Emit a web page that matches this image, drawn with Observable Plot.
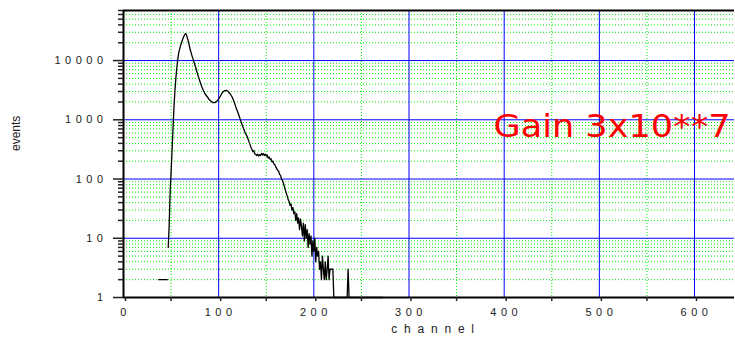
<!DOCTYPE html>
<html><head><meta charset="utf-8">
<script src="https://cdn.jsdelivr.net/npm/d3@7"></script>
<script src="https://cdn.jsdelivr.net/npm/@observablehq/plot@0.6"></script>
<style>
body{margin:0;background:#fff;}
</style>
</head><body><div id="chart"></div>
<script>
// ---- data ----
const lowChannels = [37, 46];
const lowCounts = [2, 2];

const channels = [47,48,49,50,51,52,53,54,55,56,57,58,60,62,64,65,66,68,70,72,74,76,78,80,82,84,86,88,90,92,94,96,98,100,102,104,106,108,110,112,114,116,118,120,122,124,126,128,130,132,134,136,137,138,139,140,141,142,143,144,145,146,147,148,149,150,151,152,153,154,155,156,157,158,159,160,161,162,163,164,165,166,167,168,169,170,171,172,173,174,175,176,177,178,179,180,181,182,183,184,185,186,187,188,189,190,191,192,193,194,195,196,197,198,199,200,201,202,203,204,205,206,207,208,209,210,211,212,213,214,215,216,217,218,219,220,221,235,236,237,272];
const counts = [7,17,60,130,300,700,1600,3000,5000,7500,10500,13500,18000,22500,27000,28500,27500,21500,15500,12000,9500,7500,5800,4600,3700,3100,2700,2450,2200,2050,1950,1950,2050,2250,2550,2900,3100,3150,3000,2750,2450,2050,1650,1350,1100,880,720,600,520,420,340,290,300,265,260,250,262,245,258,250,270,255,268,250,262,245,255,225,235,215,220,195,200,180,175,160,150,140,135,120,115,100,95,85,75,65,58,52,45,42,36,38,30,33,26,28,20,26,18,22,14,21,16,11,18,9,17,10,14,7,12,8,11,5,9,6,10,4,7,5,6,3,4,2,5,3,2,4,2,3,5,2,3,3,3,3,1,1,3,1,1];

const xDomain = [0, 642];
const yDomain = [1, 70000];
const xMajorTicks = [0, 100, 200, 300, 400, 500, 600];
const xMinorTicks = [50, 150, 250, 350, 450, 550];
const yMajorTicks = [1, 10, 100, 1000, 10000];
const yMinorTicks = [2,3,4,5,6,7,8,9,20,30,40,50,60,70,80,90,200,300,400,500,600,700,800,900,2000,3000,4000,5000,6000,7000,8000,9000,20000,30000,40000,50000,60000,70000];
const xLabel = ["channel"];
const yLabel = ["events"];
const annotation = ["Gain 3x10**7"];

const main = channels.map((c, i) => ({channel: c, count: counts[i]}));
const low = lowChannels.map((c, i) => ({channel: c, count: lowCounts[i]}));

const chart = Plot.plot({
  width: 735, height: 340,
  marginLeft: 123, marginRight: 1, marginTop: 10, marginBottom: 43,
  x: {domain: xDomain, label: null},
  y: {type: "log", domain: yDomain, label: null},
  style: {fontFamily: "'Liberation Sans', Arial, sans-serif", fontSize: "11px", color: "#222", background: "#fff", overflow: "visible"},
  marks: [
    Plot.ruleX(xMinorTicks, {stroke: "#00ee00", strokeDasharray: "1,2"}),
    Plot.ruleY(yMinorTicks.filter(d => d < yDomain[1]), {stroke: "#00ee00", strokeDasharray: "1,2"}),
    Plot.ruleX(xMajorTicks.filter(d => d > xDomain[0]), {stroke: "#0000ff"}),
    Plot.ruleY(yMajorTicks.filter(d => d > yDomain[0]), {stroke: "#0000ff"}),
    Plot.line(low, {x: "channel", y: "count", stroke: "#000", strokeWidth: 1.3}),
    Plot.line(main, {x: "channel", y: "count", stroke: "#000", strokeWidth: 1.3}),
    Plot.ruleX([xDomain[0]], {stroke: "#000", strokeWidth: 2}),
    Plot.ruleY([yDomain[0]], {stroke: "#000", strokeWidth: 2}),
    Plot.ruleY([yDomain[1]], {stroke: "#000", strokeWidth: 2}),
    Plot.axisY({ticks: yMinorTicks, tickSize: 5, tickFormat: () => "", strokeWidth: 1.5, label: null}),
    Plot.axisY({ticks: yMajorTicks, tickSize: 10, tickPadding: 6, tickFormat: d => String(d), strokeWidth: 1.5, label: null}),
    Plot.axisX({ticks: xMinorTicks, tickSize: 4, tickFormat: () => "", strokeWidth: 1.5, label: null}),
    Plot.axisX({ticks: xMajorTicks, tickSize: 4, tickPadding: 7, tickFormat: d => String(d), strokeWidth: 1.5, dx: 2, label: null}),
    Plot.text(xLabel, {frameAnchor: "bottom", dy: 35.5, dx: 7, fontSize: 12, fill: "#222"}),
    Plot.text(yLabel, {frameAnchor: "left", dx: -107, dy: -3, rotate: -90, fontSize: 12, fill: "#222"}),
    Plot.text(annotation, {frameAnchor: "right", textAnchor: "end", dx: -4, dy: -27, fontSize: 32, fill: "#ff0000", fontFamily: "'DejaVu Sans', sans-serif"})
  ]
});
document.getElementById("chart").appendChild(chart);

// letter spacing for tick labels and the x label (style only)
const svg = d3.select(chart);
svg.selectAll("text").each(function() {
  const t = this.textContent;
  if (/^\d+$/.test(t)) d3.select(this).style("letter-spacing", "4.5px");
  if (t === xLabel[0]) d3.select(this).style("letter-spacing", "6.8px");
});
svg.selectAll("text").filter(function(){ return this.textContent === annotation[0]; })
  .attr("textLength", 237).attr("lengthAdjust", "spacingAndGlyphs");
</script>
</body></html>
